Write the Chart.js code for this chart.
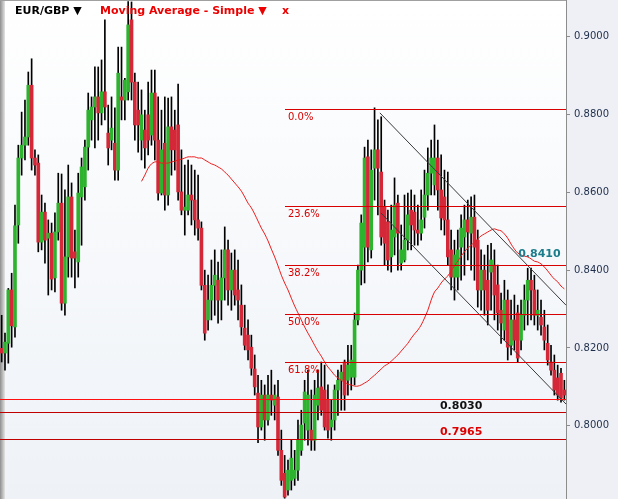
<!DOCTYPE html>
<html>
<head>
<meta charset="utf-8">
<script src="https://cdn.jsdelivr.net/npm/chart.js@4.4.1/dist/chart.umd.min.js"></script>
<style>
  html, body { margin: 0; padding: 0; background: #fff; }
  #wrap { width: 618px; height: 499px; }
</style>
</head>
<body>
<div id="wrap"><canvas id="c" width="618" height="499"></canvas></div>
<script>
/* EUR/GBP daily candles with a simple moving average, Fibonacci retracement,
   a falling channel and support levels. */

const Y_MIN = 0.7812, Y_MAX = 0.9094;
const TICK_STEP = 0.02;

const opens = [
  .8199,.8187,.8212,.8349,.8254,.8516,.8688,.8721,.8742,.8875,
  .8688,.8675,.8472,.8549,.8482,.8495,.8380,.8498,.8572,.8315,
  .8434,.8588,.8447,.8421,.8588,.8614,.8716,.8786,.8819,.8845,
  .8804,.8858,.8752,.8734,.8726,.8657,.8845,.8837,.8858,.9043,
  .8883,.8811,.8734,.8760,.8799,.8747,.8855,.8734,.8598,.8726,
  .8593,.8768,.8760,.8773,.8601,.8554,.8554,.8593,.8580,.8529,
  .8508,.8361,.8272,.8323,.8361,.8374,.8323,.8380,.8452,.8349,
  .8400,.8349,.8310,.8251,.8233,.8202,.8146,.8084,.7997,.8079,
  .8015,.8079,.8053,.8074,.7937,.7878,.7835,.7860,.7865,.7886,
  .7937,.8007,.7989,.7989,.7963,.8053,.8100,.8092,.8066,.7997,
  .8015,.8092,.8117,.8164,.8117,.8125,.8125,.8272,.8400,.8459,
  .8691,.8452,.8662,.8709,.8652,.8562,.8524,.8434,.8485,.8572,
  .8418,.8426,.8477,.8554,.8549,.8503,.8495,.8536,.8593,.8649,
  .8619,.8688,.8606,.8588,.8529,.8452,.8382,.8382,.8459,.8485,
  .8529,.8495,.8536,.8477,.8349,.8400,.8374,.8395,.8413,.8362,
  .8297,.8246,.8323,.8207,.8272,.8290,.8220,.8284,.8323,.8374,
  .8349,.8284,.8279,.8254,.8212,.8164,.8143,.8123,.8135,.8092
];
const highs = [
  .8284,.8238,.8353,.8392,.8567,.8721,.8806,.8837,.8909,.8943,
  .8709,.8696,.8593,.8572,.8529,.8521,.8547,.8649,.8647,.8606,
  .8670,.8624,.8503,.8649,.8688,.8734,.8855,.8845,.8922,.8922,
  .8940,.9043,.8824,.8845,.8817,.8973,.8973,.8893,.9090,.9089,
  .8906,.8883,.8863,.8811,.8883,.8914,.8914,.8845,.8811,.8845,
  .8842,.8845,.8811,.8878,.8709,.8670,.8683,.8670,.8657,.8644,
  .8524,.8400,.8387,.8426,.8452,.8421,.8452,.8511,.8477,.8444,
  .8452,.8426,.8362,.8310,.8272,.8233,.8182,.8130,.8117,.8105,
  .8130,.8143,.8105,.8117,.7989,.7924,.7912,.7963,.7937,.8015,
  .8040,.8117,.8143,.8092,.8117,.8143,.8164,.8156,.8105,.8066,
  .8105,.8143,.8156,.8169,.8207,.8207,.8290,.8413,.8542,.8716,
  .8734,.8709,.8817,.8786,.8794,.8580,.8554,.8567,.8637,.8593,
  .8516,.8593,.8598,.8606,.8593,.8567,.8606,.8657,.8714,.8734,
  .8773,.8734,.8696,.8657,.8652,.8503,.8477,.8503,.8542,.8567,
  .8580,.8588,.8593,.8503,.8452,.8439,.8464,.8469,.8452,.8413,
  .8341,.8374,.8349,.8323,.8336,.8310,.8323,.8362,.8405,.8405,
  .8387,.8349,.8323,.8297,.8259,.8207,.8182,.8156,.8148,.8117
];
const lows = [
  .8164,.8143,.8161,.8202,.8228,.8469,.8644,.8683,.8721,.8657,
  .8644,.8447,.8452,.8418,.8336,.8349,.8344,.8477,.8297,.8284,
  .8382,.8382,.8354,.8382,.8464,.8580,.8657,.8734,.8714,.8734,
  .8773,.8786,.8670,.8709,.8631,.8631,.8786,.8786,.8837,.8837,
  .8734,.8703,.8683,.8662,.8696,.8721,.8683,.8580,.8593,.8554,
  .8567,.8644,.8657,.8580,.8542,.8490,.8542,.8516,.8490,.8477,
  .8349,.8220,.8246,.8272,.8284,.8264,.8272,.8323,.8310,.8297,
  .8310,.8272,.8233,.8195,.8169,.8130,.8079,.7957,.7989,.7963,
  .8002,.8027,.8015,.7924,.7847,.7814,.7822,.7835,.7847,.7860,
  .7924,.7963,.7950,.7937,.7937,.8015,.8027,.7989,.7968,.7963,
  .7989,.8027,.8040,.8040,.8079,.8092,.8105,.8259,.8362,.8367,
  .8421,.8431,.8580,.8542,.8464,.8413,.8400,.8395,.8439,.8400,
  .8400,.8421,.8452,.8452,.8464,.8464,.8477,.8508,.8554,.8593,
  .8593,.8554,.8503,.8490,.8413,.8349,.8323,.8349,.8374,.8387,
  .8426,.8400,.8374,.8305,.8297,.8284,.8259,.8297,.8272,.8246,
  .8212,.8220,.8169,.8182,.8195,.8164,.8195,.8246,.8259,.8272,
  .8259,.8246,.8233,.8195,.8156,.8130,.8079,.8066,.8061,.8066
];
const closes = [
  .8187,.8215,.8349,.8257,.8514,.8688,.8721,.8742,.8875,.8688,
  .8670,.8472,.8549,.8477,.8495,.8377,.8498,.8572,.8315,.8434,
  .8588,.8431,.8431,.8598,.8665,.8716,.8811,.8819,.8845,.8804,
  .8858,.8819,.8714,.8765,.8657,.8906,.8837,.8888,.9030,.8883,
  .8773,.8773,.8799,.8714,.8734,.8855,.8734,.8598,.8709,.8593,
  .8768,.8709,.8709,.8601,.8554,.8562,.8593,.8580,.8529,.8508,
  .8361,.8238,.8323,.8361,.8387,.8323,.8380,.8452,.8349,.8400,
  .8336,.8323,.8254,.8207,.8195,.8148,.8100,.7997,.8079,.8015,
  .8079,.8066,.8079,.7937,.7860,.7817,.7886,.7917,.7886,.7963,
  .8002,.8087,.8079,.7963,.8079,.8097,.8040,.7997,.7989,.8015,
  .8092,.8117,.8138,.8079,.8156,.8169,.8272,.8400,.8521,.8688,
  .8459,.8657,.8709,.8662,.8485,.8469,.8426,.8503,.8567,.8495,
  .8452,.8477,.8542,.8516,.8503,.8495,.8529,.8593,.8649,.8688,
  .8688,.8606,.8534,.8529,.8434,.8382,.8439,.8452,.8508,.8529,
  .8498,.8536,.8459,.8349,.8400,.8349,.8297,.8426,.8336,.8290,
  .8264,.8323,.8202,.8272,.8220,.8174,.8284,.8323,.8374,.8349,
  .8284,.8297,.8259,.8220,.8169,.8143,.8092,.8079,.8071,.8079
];

// simple moving average as plotted (starts at bar 42)
const maValues = [
  null,null,null,null,null,null,null,null,null,null,
  null,null,null,null,null,null,null,null,null,null,
  null,null,null,null,null,null,null,null,null,null,
  null,null,null,null,null,null,null,null,null,null,
  null,null,
  .8628,.8644,.8662,.8673,.8678,.8678,.8675,.8675,.8675,.8678,
  .8680,.8683,.8685,.8688,.8691,.8691,.8691,.8688,.8688,.8683,
  .8678,.8673,.8670,.8665,.8660,.8652,.8644,.8634,.8624,.8614,
  .8603,.8588,.8572,.8560,.8544,.8526,.8508,.8493,.8475,.8454,
  .8434,.8411,.8387,.8367,.8349,.8328,.8308,.8290,.8272,.8254,
  .8238,.8223,.8207,.8192,.8179,.8164,.8151,.8141,.8130,.8123,
  .8117,.8112,.8107,.8105,.8102,.8102,.8105,.8110,.8115,.8123,
  .8130,.8138,.8146,.8154,.8159,.8166,.8174,.8182,.8192,.8202,
  .8212,.8225,.8236,.8246,.8259,.8277,.8297,.8323,.8344,.8354,
  .8367,.8377,.8385,.8398,.8411,.8423,.8436,.8447,.8457,.8464,
  .8472,.8480,.8488,.8493,.8498,.8503,.8506,.8503,.8501,.8493,
  .8482,.8467,.8454,.8444,.8439,.8436,.8434,.8429,.8423,.8421,
  .8416,.8408,.8398,.8387,.8377,.8370,.8359,.8352
];

// Fibonacci retracement drawn from bar 85 to the right edge
const fibStartBar = 85;
const fibLevels = [0.8814, 0.8566, 0.8412, 0.8288, 0.8164];
const fibLabels = ["0.0%", "23.6%", "38.2%", "50.0%", "61.8%"];

// full-width horizontal levels
const hLevels = [0.8070, 0.8036, 0.7965];
const hColors = ["#ff1010", "#c00000", "#c00000"];
const hLabels = [
  { text: "0.8030", bar: 138, level: 0.8036, color: "#111111", above: 6 },
  { text: "0.7965", bar: 138, level: 0.7965, color: "#dd0000", above: 7 },
];
const maTag = { text: "0.8410", bar: 161.5, level: 0.8412, color: "#1b7d8c" };

// falling channel: [bar, price] end points
const channelUpper = [[113.6, 0.8804], [169.5, 0.8310]];
const channelLower = [[113.9, 0.8547], [169.5, 0.8056]];

const labels = opens.map((_, i) => i);
const GREEN = "#2db32d", RED = "#d42838";

const overlay = {
  id: "overlay",
  beforeDraw(chart) {
    const { ctx, chartArea: a, width, height } = chart;
    ctx.save();
    ctx.fillStyle = "#eef0f5";
    ctx.fillRect(0, 0, width, height);
    const g = ctx.createLinearGradient(0, a.top, 0, a.bottom);
    g.addColorStop(0, "#ffffff");
    g.addColorStop(1, "#eef2f7");
    ctx.fillStyle = g;
    ctx.fillRect(a.left, a.top, a.right - a.left, a.bottom - a.top);
    const lg = ctx.createLinearGradient(0, 0, 5, 0);
    lg.addColorStop(0, "#8e8e8e");
    lg.addColorStop(1, "#e4e4e4");
    ctx.fillStyle = lg;
    ctx.fillRect(0, 0, 5, height);
    ctx.fillStyle = "#a0a0a0";
    ctx.fillRect(0, 0, a.right, 1);
    ctx.restore();
  },
  afterDatasetsDraw(chart) {
    const { ctx, chartArea: a, scales: { x, y } } = chart;
    const py = v => Math.round(y.getPixelForValue(v)) + 0.5;
    ctx.save();
    ctx.lineWidth = 1;

    // channel
    ctx.strokeStyle = "#3a3a3a";
    [channelUpper, channelLower].forEach(seg => {
      ctx.beginPath();
      ctx.moveTo(x.getPixelForValue(seg[0][0]), y.getPixelForValue(seg[0][1]));
      ctx.lineTo(x.getPixelForValue(seg[1][0]), y.getPixelForValue(seg[1][1]));
      ctx.stroke();
    });

    // fib retracement
    const fx = Math.round(x.getPixelForValue(fibStartBar));
    ctx.font = "10px 'DejaVu Sans'";
    ctx.textBaseline = "middle";
    ctx.textAlign = "left";
    fibLevels.forEach((lv, i) => {
      const yy = py(lv);
      ctx.strokeStyle = "#d80000";
      ctx.beginPath(); ctx.moveTo(fx, yy); ctx.lineTo(a.right, yy); ctx.stroke();
      ctx.fillStyle = "#d80000";
      ctx.fillText(fibLabels[i], fx + 3, yy + 8);
    });

    // support levels
    hLevels.forEach((lv, i) => {
      const yy = py(lv);
      ctx.strokeStyle = hColors[i];
      ctx.beginPath(); ctx.moveTo(a.left, yy); ctx.lineTo(a.right, yy); ctx.stroke();
    });
    ctx.font = "bold 11px 'DejaVu Sans'";
    ctx.textAlign = "center";
    hLabels.forEach(l => {
      ctx.fillStyle = l.color;
      ctx.fillText(l.text, x.getPixelForValue(l.bar), y.getPixelForValue(l.level) - l.above);
    });
    ctx.fillStyle = maTag.color;
    ctx.fillText(maTag.text, x.getPixelForValue(maTag.bar), y.getPixelForValue(maTag.level) - 11);

    // header
    ctx.textAlign = "left";
    ctx.font = "bold 11px 'DejaVu Sans'";
    ctx.fillStyle = "#000";
    ctx.fillText("EUR/GBP ▼", 15, 11);
    ctx.fillStyle = "#ee0000";
    ctx.fillText("Moving Average - Simple ▼", 100, 11);
    ctx.fillText("x", 282, 11);
    ctx.restore();
  },
};

new Chart(document.getElementById("c"), {
  data: {
    labels,
    datasets: [
      {
        type: "line",
        data: maValues,
        borderColor: "#ee1c1c",
        borderWidth: 1,
        pointRadius: 0,
        tension: 0.3,
        order: 0,
      },
      {
        type: "bar",
        data: opens.map((o, i) => [o, closes[i]]),
        backgroundColor: opens.map((o, i) => (closes[i] >= o ? GREEN : RED)),
        barThickness: 3,
        minBarLength: 1,
        grouped: false,
        order: 1,
      },
      {
        type: "bar",
        data: lows.map((l, i) => [l, highs[i]]),
        backgroundColor: "#000000",
        barThickness: 1,
        grouped: false,
        order: 2,
      },
    ],
  },
  options: {
    responsive: false,
    animation: false,
    devicePixelRatio: 1,
    layout: { padding: 0 },
    plugins: { legend: { display: false }, tooltip: { enabled: false } },
    scales: {
      x: { type: "category", display: false, offset: true },
      y: {
        position: "right",
        min: Y_MIN,
        max: Y_MAX,
        afterFit(s) { s.width = 52; s.paddingTop = 0; s.paddingBottom = 0; },
        ticks: {
          stepSize: TICK_STEP,
          includeBounds: false,
          padding: 4,
          color: "#1e2d4a",
          font: { family: "DejaVu Sans", size: 10 },
          callback: v => v.toFixed(4),
        },
        grid: { drawOnChartArea: false, drawTicks: true, tickLength: 4, color: "#8c8c8c" },
        border: { color: "#8c8c8c" },
      },
    },
  },
  plugins: [overlay],
});
</script>
</body>
</html>
